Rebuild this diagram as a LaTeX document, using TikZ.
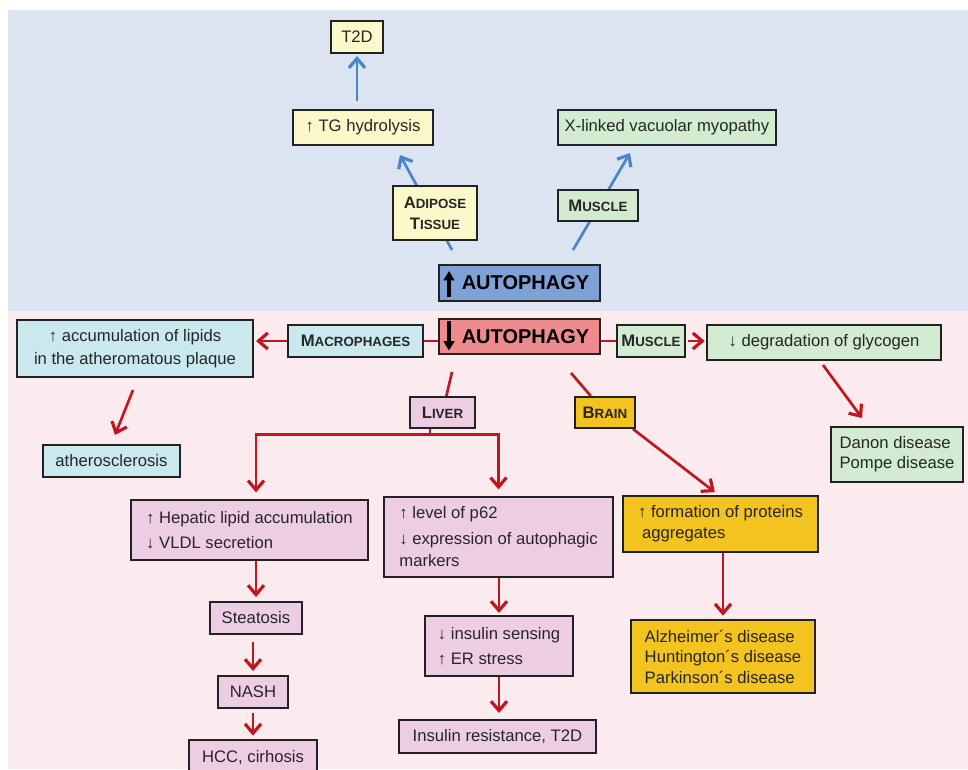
\documentclass[tikz,border=0pt]{standalone}
\usepackage{fontspec}
\setmainfont{Liberation Sans}
\usetikzlibrary{arrows.meta,calc}
\definecolor{bgblue}{HTML}{DCE4F1}
\definecolor{bgpink}{HTML}{FCEBEE}
\definecolor{fyel}{HTML}{FBF9CA}
\definecolor{fgrn}{HTML}{D3EBD0}
\definecolor{fcyan}{HTML}{C9E9EF}
\definecolor{flil}{HTML}{EDCDE4}
\definecolor{fgold}{HTML}{F3C31F}
\definecolor{fupa}{HTML}{7EA2D6}
\definecolor{fdna}{HTML}{EE8B8F}
\definecolor{redc}{HTML}{C0161E}
\definecolor{bluec}{HTML}{4A86C5}
\definecolor{boxline}{HTML}{222222}
\definecolor{txt}{HTML}{262626}
\newcommand{\mysc}[2]{\textbf{{\fontsize{12.5}{14}\selectfont #1}{\fontsize{10}{12}\selectfont #2}}}
\pgfdeclarelayer{bgl}
\pgfsetlayers{bgl,main}
\begin{document}
\begin{tikzpicture}[x=0.75pt,y=-0.75pt,
  box/.style={draw=boxline, line width=1.5pt, inner sep=0pt, text=txt,
    font=\fontsize{12.5}{17}\selectfont},
  ttl/.style={box, align=center, font=\fontsize{12.5}{16}\selectfont},
  autobox/.style={box, font=\fontsize{15}{18}\selectfont\bfseries, text=black},
  redline/.style={draw=redc, line width=2pt},
  redarr/.style={redline, -{Straight Barb[length=7pt,width=12pt,line width=2.4pt]}},
  bluearr/.style={draw=bluec, line width=2pt, -{Straight Barb[length=7pt,width=12pt,line width=2.4pt]}},
  bigarr/.style={draw=black, line width=3pt, -{Triangle[length=7pt,width=8pt]}}
]
\useasboundingbox (0,0) rectangle (968,769);

% ---------- top (increased autophagy) ----------
\node[box, fill=fyel, minimum width=39pt, minimum height=24pt] (t2d) at (357,37) {T2D};
\node[box, fill=fyel, minimum width=105pt, minimum height=26.25pt] (tg) at (363,127.5) {↑ TG hydrolysis};
\node[ttl, fill=fyel, minimum width=63pt, minimum height=40.5pt] (adip) at (435,213) {\mysc{A}{DIPOSE}\\\mysc{T}{ISSUE}};
\node[ttl, fill=fgrn, minimum width=60pt, minimum height=23.25pt] (mus1) at (598,205.5) {\mysc{M}{USCLE}};
\node[box, fill=fgrn, minimum width=163.5pt, minimum height=26.25pt] (xlink) at (667,127.5) {X-linked vacuolar myopathy};
\node[autobox, fill=fupa, minimum width=120.75pt, minimum height=27pt] (upauto) at (519.5,283) {\hspace*{9pt}AUTOPHAGY};
\draw[bigarr] ($(upauto.west)+(11,14)$) -- ($(upauto.west)+(11,-12)$);

% ---------- bottom (decreased autophagy) ----------
\node[autobox, fill=fdna, minimum width=120.75pt, minimum height=26.25pt] (dnauto) at (519.5,336.5) {\hspace*{9pt}AUTOPHAGY};
\draw[bigarr] ($(dnauto.west)+(11,-16)$) -- ($(dnauto.west)+(11,14)$);

\node[ttl, fill=fcyan, minimum width=101.25pt, minimum height=24pt] (macro) at (355.5,341) {\mysc{M}{ACROPHAGES}};
\node[box, fill=fcyan, align=center, minimum width=177pt, minimum height=42.75pt] (acc) at (135,348.5) {↑ accumulation of lipids\\in the atheromatous plaque};
\node[box, fill=fcyan, minimum width=102.75pt, minimum height=24pt] (ath) at (111.5,461) {atherosclerosis};

\node[ttl, fill=fgrn, minimum width=51pt, minimum height=24pt] (mus2) at (651,341) {\mysc{M}{USCLE}};
\node[box, fill=fgrn, minimum width=175.5pt, minimum height=26.25pt] (glyc) at (824,342.5) {↓ degradation of glycogen};
\node[box, fill=fgrn, align=left, minimum width=99pt, minimum height=41.25pt,
  font=\fontsize{12.5}{15}\selectfont] (danon) at (897,454.5) {Danon disease\\Pompe disease};

\node[ttl, fill=flil, minimum width=48.75pt, minimum height=23.25pt] (liver) at (442.5,412.5) {\mysc{L}{IVER}};
\node[ttl, fill=fgold, minimum width=45pt, minimum height=23.25pt] (brain) at (605,412.5) {\mysc{B}{RAIN}};

\node[box, fill=flil, align=left, minimum width=177.75pt, minimum height=45pt,
  font=\fontsize{12.5}{18.5}\selectfont] (hep) at (249.5,530) {↑ Hepatic lipid accumulation\\↓ VLDL secretion};
\node[box, fill=flil, minimum width=69pt, minimum height=24pt] (stea) at (256,618) {Steatosis};
\node[box, fill=flil, minimum width=52.5pt, minimum height=24pt] (nash) at (253,692) {NASH};
\node[box, fill=flil, minimum width=96pt, minimum height=26.25pt] (hcc) at (253,757.5) {HCC, cirhosis};

\node[box, fill=flil, align=left, minimum width=171.75pt, minimum height=60pt,
  font=\fontsize{12.5}{17}\selectfont] (p62) at (498.5,537) {↑ level of p62\\[2pt]↓ expression of autophagic\\markers};
\node[box, fill=flil, align=left, minimum width=111pt, minimum height=45pt,
  font=\fontsize{12.5}{18.5}\selectfont] (ins) at (499,646) {↓ insulin sensing\\↑ ER stress};
\node[box, fill=flil, minimum width=147.75pt, minimum height=24.75pt] (ir) at (497.5,736.5) {Insulin resistance, T2D};

\node[box, fill=fgold, align=left, minimum width=146.25pt, minimum height=42pt,
  font=\fontsize{12.5}{16}\selectfont] (form) at (720.5,524) {↑ formation of proteins\\\hspace*{3pt}aggregates};
\node[box, fill=fgold, align=left, minimum width=138pt, minimum height=54.75pt,
  font=\fontsize{12.5}{15.4}\selectfont] (alz) at (723,656.5) {Alzheimer´s disease\\Huntington´s disease\\Parkinson´s disease};

% free ends of slanted connectors
\coordinate (a1) at (452,250);  \coordinate (a2) at (400,155);
\coordinate (m1) at (573,250);  \coordinate (m2) at (630,153);
\coordinate (l1) at (452,372);
\coordinate (lj) at (430,434.5);
\coordinate (b1) at (571,373);
\coordinate (g1) at (823,365);  \coordinate (g2) at (862,418);
\coordinate (c1) at (133,390);  \coordinate (c2) at (115,435);

\begin{pgfonlayer}{bgl}
\fill[bgblue] (8,10) rectangle (968,310.5);
\fill[bgpink] (8,310.5) rectangle (968,769);
% blue connectors
\draw[bluearr, shorten <=6pt, shorten >=1.5pt] (t2d.south |- tg.north) -- (t2d.south);
\draw[bluearr] (a1) -- (a2);
\draw[bluearr] (m1) -- (m2);
% red connectors
\draw[redline] (dnauto.west |- macro) -- (macro.east);
\draw[redarr, shorten >=1.5pt] (macro.west) -- (acc.east |- macro);
\draw[redline] (dnauto.east |- mus2) -- (mus2.west);
\draw[redarr, shorten <=1.5pt, shorten >=1pt] (mus2.east) -- (glyc.west |- mus2);
\draw[redarr] (g1) -- (g2);
\draw[redarr] (c1) -- (c2);
\draw[redline] (l1) -- (liver);
\draw[redline] (lj |- liver.south) -- (lj);
\draw[redarr, shorten >=5pt] (lj) -| (hep.north -| stea);
\draw[redarr, shorten >=5pt] (lj) -| (p62.north);
\draw[redline] (b1) -- (brain);
\draw[redarr, shorten >=3.5pt] (brain.south east) ++(-3,0) -- ($(form.north)+(-2,0)$);
\draw[redarr, shorten >=3pt] (hep.south -| stea) -- (stea.north);
\draw[redarr, shorten <=5pt, shorten >=3pt] (stea.south -| nash) -- (nash.north);
\draw[redarr, shorten <=3pt, shorten >=2.5pt] (nash.south) -- (hcc.north);
\draw[redarr, shorten >=1.5pt] (p62.south -| ins) -- (ins.north);
\draw[redarr, shorten >=4.5pt] (ins.south) -- (ins.south |- ir.north);
\draw[redarr, shorten >=2.5pt] (form.south -| alz) -- (alz.north);
\end{pgfonlayer}
\end{tikzpicture}
\end{document}
